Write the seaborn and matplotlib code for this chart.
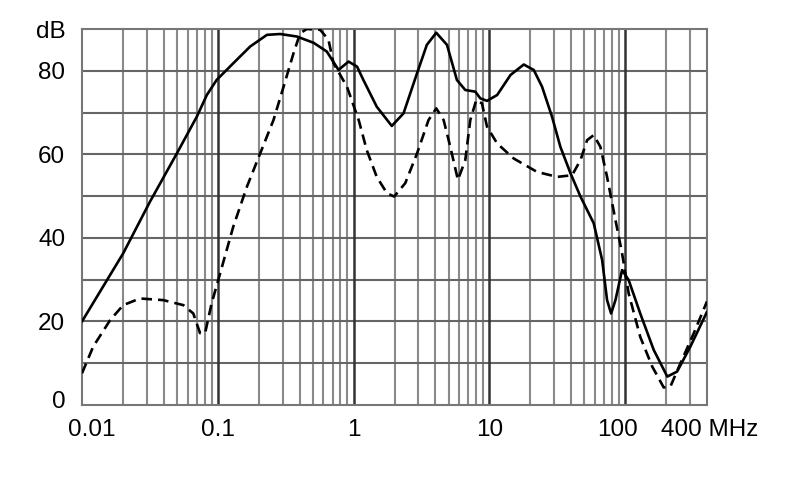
import numpy as np
import pandas as pd
import matplotlib
matplotlib.use("Agg")
import matplotlib.pyplot as plt
import matplotlib.transforms as mtransforms
import seaborn as sns

# Solid curve (MHz, dB)
solid_f = [0.01, 0.0201, 0.0317, 0.0499, 0.070, 0.083, 0.098, 0.130, 0.173, 0.230,
           0.288, 0.382, 0.507, 0.635, 0.774, 0.917, 1.06, 1.18, 1.48, 1.91, 2.33,
           2.93, 3.46, 4.06, 4.87, 5.76, 6.64, 7.87, 8.57, 9.60, 11.4, 14.3, 17.9,
           21.2, 24.4, 28.9, 33.3, 39.5, 46.8, 58.6, 67.6, 73.5, 78.7, 84.7, 94.8,
           106, 129, 162, 204, 241, 302, 400]
solid_db = [20.0, 36.3, 48.7, 60.2, 69.0, 74.2, 77.8, 81.8, 85.8, 88.6,
            88.8, 88.2, 86.7, 84.6, 80.2, 82.2, 81.0, 77.8, 71.4, 66.8, 69.8,
            79.4, 86.2, 89.1, 86.2, 77.8, 75.4, 75.0, 73.4, 72.8, 74.2, 79.0, 81.5,
            80.2, 76.2, 69.0, 61.8, 55.5, 49.9, 43.5, 34.7, 25.1, 21.9, 25.1, 32.3,
            29.9, 21.9, 13.2, 6.8, 8.0, 14.0, 22.3]

# Dashed curve (MHz, dB)
dashed_f = [0.01, 0.0121, 0.0161, 0.0201, 0.0267, 0.0397, 0.0558, 0.066, 0.074, 0.0806,
            0.090, 0.104, 0.130, 0.164, 0.205, 0.257, 0.305, 0.361, 0.404, 0.453,
            0.568, 0.653, 0.711, 0.893, 1.09, 1.25, 1.48, 1.76, 1.99, 2.40, 2.93,
            3.56, 4.06, 4.60, 5.15, 5.86, 6.64, 7.23, 8.0, 8.81, 9.6, 11.4, 15.1,
            22.4, 31.5, 40.6, 46.8, 52.4, 58.6, 65.6, 73.5, 84.7, 94.8, 106, 129,
            158, 192, 215, 255, 320, 400]
dashed_db = [7.6, 14.0, 20.3, 23.9, 25.5, 25.1, 23.9, 21.9, 17.2, 17.2,
             24.3, 31.5, 42.7, 52.3, 60.2, 68.2, 76.2, 84.2, 89.0, 90.0,
             89.8, 87.4, 81.8, 76.2, 68.2, 61.0, 54.6, 50.7, 49.9, 53.1, 60.2,
             68.2, 71.0, 68.2, 61.8, 53.9, 58.6, 68.2, 73.0, 72.2, 66.6, 62.6, 59.0,
             55.8, 54.6, 55.0, 58.6, 63.4, 64.6, 61.8, 54.6, 44.3, 36.3, 26.7, 16.3,
             9.2, 4.2, 4.4, 10.0, 17.2, 24.8]

x_ticks = [0.01, 0.1, 1, 10, 100, 400]
x_labels = ["0.01", "0.1", "1", "10", "100", "400 MHz"]
y_ticks = [0, 20, 40, 60, 80, 90]
y_labels = ["0", "20", "40", "60", "80", "dB"]

sns.set_theme(style="white")
plt.rcParams['font.family'] = ['Liberation Sans', 'DejaVu Sans']

fig = plt.figure(figsize=(7.9, 4.99), dpi=100)
ax = fig.add_axes([82/790, 1 - 405/499, (707 - 82)/790, (405 - 29)/499])

solid = pd.DataFrame({"f": solid_f, "dB": solid_db})
dashed = pd.DataFrame({"f": dashed_f, "dB": dashed_db})

ax.set_xscale("log")
ax.set_xlim(0.01, 400)
ax.set_ylim(0, 90)

# grid
minor = [m * 10.0**e for e in range(-2, 3) for m in range(2, 10)]
minor = [v for v in minor if 0.01 < v < 400]
for v in minor:
    ax.axvline(v, color="#8a8a8a", lw=1.5, zorder=1)
for v in [0.1, 1, 10, 100]:
    ax.axvline(v, color="#333333", lw=1.8, zorder=1.5)
for v in range(10, 90, 10):
    ax.axhline(v, color="#666666", lw=1.5, zorder=1)

sns.lineplot(data=solid, x="f", y="dB", ax=ax, color="black", lw=1.9, sort=False,
             zorder=3, solid_joinstyle="round")
sns.lineplot(data=dashed, x="f", y="dB", ax=ax, color="black", lw=1.9, sort=False,
             linestyle=(0, (4, 2.3)), zorder=3, dash_joinstyle="round")

for s in ax.spines.values():
    s.set_color("#777777")
    s.set_linewidth(1.5)

ax.set_xticks(x_ticks)
ax.set_xticklabels(x_labels)
ax.xaxis.set_minor_locator(matplotlib.ticker.NullLocator())
ax.set_yticks(y_ticks)
ax.set_yticklabels(y_labels)
ax.tick_params(axis="both", length=0, labelsize=17.5, colors="black")
ax.tick_params(axis="x", pad=10)
ax.tick_params(axis="y", pad=12)
ax.set_xlabel("")
ax.set_ylabel("")

# nudge some x labels
offsets = {"0.01": 10, "100": -8, "400 MHz": 3}
for lab in ax.get_xticklabels():
    dx = offsets.get(lab.get_text(), 0)
    if dx:
        lab.set_transform(lab.get_transform() +
                          mtransforms.ScaledTranslation(dx/100, 0, fig.dpi_scale_trans))
for lab in ax.get_yticklabels():
    if lab.get_text() == "0":
        lab.set_transform(lab.get_transform() +
                          mtransforms.ScaledTranslation(0, 6/100, fig.dpi_scale_trans))

fig.savefig("out.png", dpi=100)
